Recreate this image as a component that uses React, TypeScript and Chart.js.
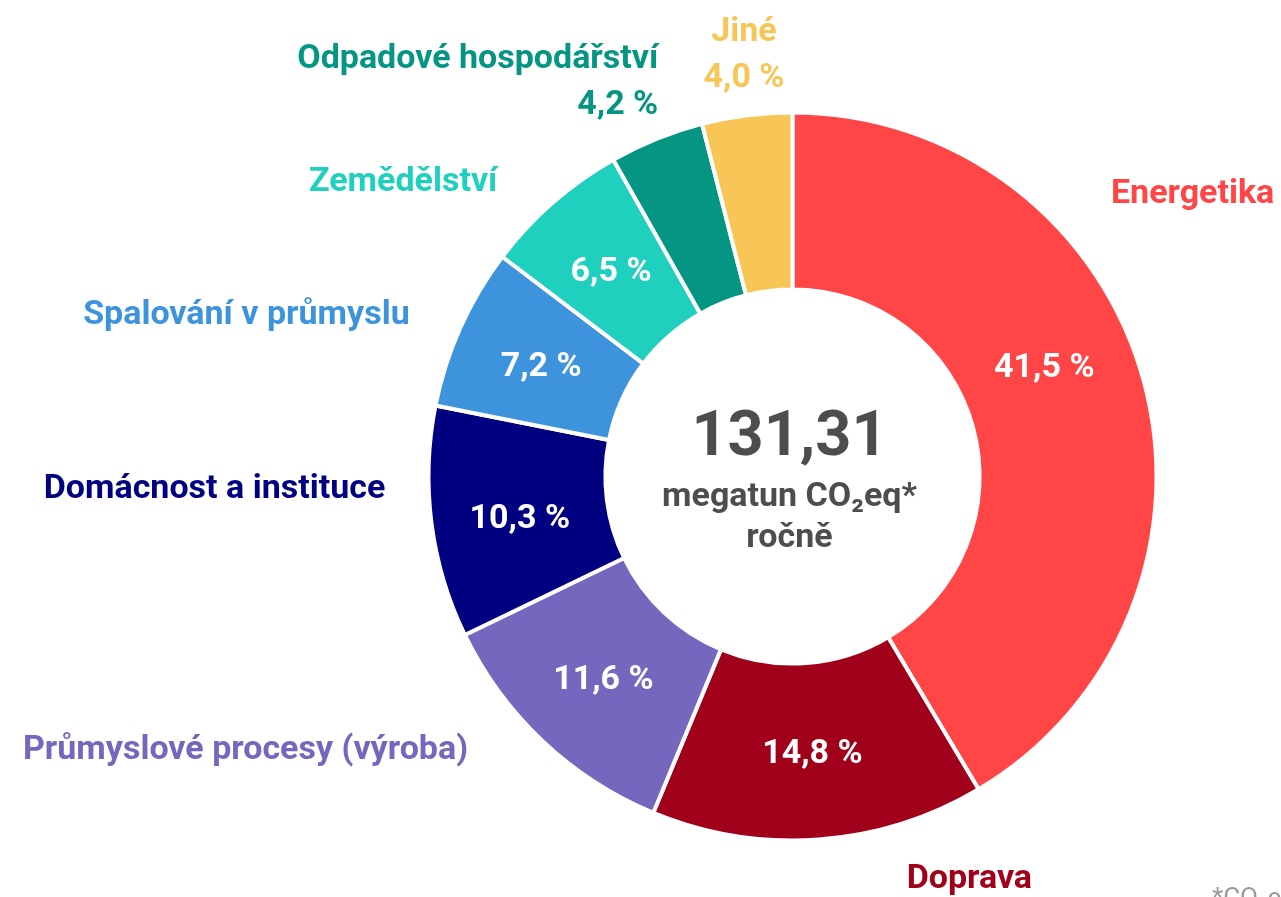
import React, { useEffect, useRef } from "react";
import { Chart, registerables } from "chart.js";

Chart.register(...registerables);

const categories = [
  "Energetika",
  "Doprava",
  "Průmyslové procesy (výroba)",
  "Domácnost a instituce",
  "Spalování v průmyslu",
  "Zemědělství",
  "Odpadové hospodářství",
  "Jiné",
];
const shares = [41.5, 14.8, 11.6, 10.3, 7.2, 6.5, 4.2, 4.0];
const sliceColors = [
  "#FF4545",
  "#A0001A",
  "#7567BE",
  "#000080",
  "#3D94DC",
  "#20D0BE",
  "#059583",
  "#F8C657",
];
const totalValue = "131,31";
const totalUnitLines = ["megatun CO₂eq*", "ročně"];
const footnote = "*CO₂eq = ekvivalent CO₂";

const fmt = (v: number) => v.toFixed(1).replace(".", ",") + " %";

// label layout: angle shift (deg) from slice middle, distance as fraction of outer radius
const outerLayout = [
  { dA: -26.5, k: 1.175, align: "left", v: "middle", inside: true },
  { dA: -20.4, k: 1.17, align: "center", v: "top", inside: true },
  { dA: 6.8, k: 1.161, align: "right", v: "middle", inside: true },
  { dA: 5.9, k: 1.119, align: "right", v: "middle", inside: true },
  { dA: -0.9, k: 1.145, align: "right", v: "middle", inside: true },
  { dA: -3.6, k: 1.151, align: "right", v: "middle", inside: true },
  { dA: 3.3, k: 1.154, align: "right", v: "middle", inside: false },
  { dA: 0.1, k: 1.079, align: "center", v: "bottom", inside: false },
];
const innerShift = [-8.6, 0, 0, -1, 0, 0, 0, 0];

const FONT = "Roboto, 'Noto Sans', sans-serif";

const labelPlugin = {
  id: "labelPlugin",
  afterDraw(chart: any) {
    const ctx = chart.ctx as CanvasRenderingContext2D;
    const meta = chart.getDatasetMeta(0);
    const fs = 34;
    const capH = fs * 0.711;
    const lh = 46;
    ctx.save();
    meta.data.forEach((arc: any, i: number) => {
      const { x, y, startAngle, endAngle, innerRadius, outerRadius } = arc.getProps(
        ["x", "y", "startAngle", "endAngle", "innerRadius", "outerRadius"],
        true
      );
      const mid = (startAngle + endAngle) / 2;
      const L = outerLayout[i];
      ctx.font = `bold ${fs}px ${FONT}`;
      ctx.textBaseline = "alphabetic";
      if (L.inside) {
        const a = mid + (innerShift[i] * Math.PI) / 180;
        const r = (innerRadius + outerRadius) / 2;
        const px = x + r * Math.cos(a);
        const py = y + r * Math.sin(a);
        ctx.fillStyle = "#FFFFFF";
        ctx.textAlign = "center";
        ctx.fillText(fmt(shares[i]), px, py + capH / 2);
      }
      const lines = L.inside ? [categories[i]] : [categories[i], fmt(shares[i])];
      const a2 = mid + (L.dA * Math.PI) / 180;
      const r2 = outerRadius * L.k;
      const ax = x + r2 * Math.cos(a2);
      const ay = y + r2 * Math.sin(a2);
      const blockH = capH + (lines.length - 1) * lh;
      let firstBase: number;
      if (L.v === "middle") firstBase = ay - blockH / 2 + capH;
      else if (L.v === "top") firstBase = ay + capH;
      else firstBase = ay - (lines.length - 1) * lh;
      ctx.fillStyle = sliceColors[i];
      ctx.textAlign = L.align as CanvasTextAlign;
      lines.forEach((t, j) => ctx.fillText(t, ax, firstBase + j * lh));
    });
    const c = meta.data[0];
    const cx = c.x - 3;
    const cy = c.y;
    ctx.fillStyle = "#4D4D4D";
    ctx.textAlign = "center";
    ctx.font = `bold 63px ${FONT}`;
    ctx.fillText(totalValue, cx, cy - 21.5);
    ctx.font = `bold 34px ${FONT}`;
    ctx.fillText(totalUnitLines[0], cx, cy + 29.5);
    ctx.fillText(totalUnitLines[1], cx, cy + 70.5);
    ctx.fillStyle = "#999999";
    ctx.textAlign = "left";
    ctx.font = `26px ${FONT}`;
    ctx.fillText(footnote, 1212, 906);
    ctx.restore();
  },
};

export default function App() {
  const ref = useRef<HTMLCanvasElement | null>(null);
  useEffect(() => {
    document.body.style.margin = "0";
    const chart = new Chart(ref.current!, {
      type: "doughnut",
      data: {
        labels: categories,
        datasets: [
          {
            data: shares,
            backgroundColor: sliceColors,
            borderColor: "#FFFFFF",
            borderWidth: 4,
            hoverOffset: 0,
          },
        ],
      },
      options: {
        responsive: false,
        animation: false,
        cutout: "51.4%",
        layout: { padding: { top: 110.5, bottom: 54.5, left: 426.5, right: 122.5 } },
        plugins: {
          legend: { display: false },
          tooltip: { enabled: false },
        },
        events: [],
      },
      plugins: [labelPlugin],
    });
    return () => chart.destroy();
  }, []);
  return (
    <div style={{ position: "absolute", left: 0, top: 0, width: 1281, height: 897, background: "#fff" }}>
      <canvas ref={ref} width={1281} height={897} />
    </div>
  );
}
